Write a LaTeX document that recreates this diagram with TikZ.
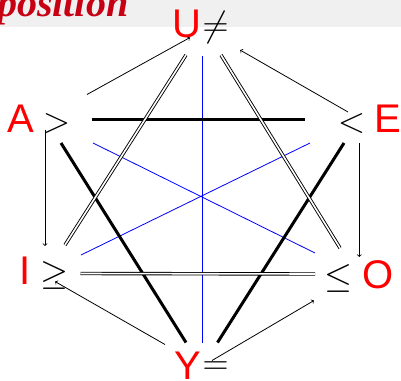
\RequirePackage{fix-cm}
\documentclass[tikz,border=0pt]{standalone}
\usepackage{fontspec}
\setmainfont{Liberation Sans}
\newfontfamily\titlefont{Liberation Serif}
\begin{document}
\begin{tikzpicture}[x=1pt,y=-1pt,
  lab/.style={inner sep=0pt,text=red,font=\fontsize{40}{48}\selectfont},
  sym/.style={inner sep=0pt,font=\fontsize{36}{44}\selectfont},
  thickline/.style={line width=3pt,black},
  dbl/.style={double,double distance=1.6pt,line width=0.9pt},
  thin/.style={line width=0.8pt,->},
  blueline/.style={line width=0.8pt,blue}]
\useasboundingbox (0,0) rectangle (401,380);
\fill[gray!12] (0,0) rectangle (401,26.5);
\node[anchor=base west,inner sep=0pt,text={rgb,255:red,200;green,0;blue,20},
  font=\titlefont\fontsize{40}{48}\selectfont\bfseries\itshape] (title) at (-3,16.5) {position};
% labels
\node[lab] (U) at (186.5,24) {U};
\node[sym] (Us) at (215.5,27) {$\neq$};
\node[lab] (A) at (21,119) {A};
\node[sym] (As) at (56.5,123) {$>$};
\node[lab] (E) at (388,119) {E};
\node[sym] (Es) at (351.5,123) {$<$};
\node[lab] (I) at (25,270.5) {I};
\node[sym] (Is) at (54.5,275) {$\geq$};
\node[lab] (O) at (378,275) {O};
\node[sym] (Os) at (338.5,278) {$\leq$};
\node[lab] (Y) at (188,366) {Y};
\node[sym] (Ys) at (215.5,368.5) {$=$};
% coordinates
\coordinate (ae1) at (92,119); \coordinate (ae2) at (305,119);
\coordinate (ay1) at (61,143); \coordinate (ay2) at (186,342.5);
\coordinate (ey1) at (344,143); \coordinate (ey2) at (217.5,342.5);
\coordinate (iu1) at (65,245); \coordinate (iu2) at (186,55);
\coordinate (uo1) at (221,55); \coordinate (uo2) at (340,248);
\coordinate (io1) at (80.5,273.5); \coordinate (io2) at (315,274);
\coordinate (bv1) at (202,56); \coordinate (bv2) at (202,342.5);
\coordinate (bd1) at (93,143); \coordinate (bd2) at (315,253);
\coordinate (bd3) at (310,143); \coordinate (bd4) at (81,255);
\coordinate (au1) at (87,94.5); \coordinate (au2) at (190,37.5);
\coordinate (eu1) at (348,112); \coordinate (eu2) at (240,50);
\coordinate (ai1) at (45,129.5); \coordinate (ai2) at (45,246);
\coordinate (eo1) at (359.3,143); \coordinate (eo2) at (359.3,257);
\coordinate (yi1) at (165,344.5); \coordinate (yi2) at (55,281.5);
\coordinate (yo1) at (212,360.5); \coordinate (yo2) at (314,300.5);
% blue
\draw[blueline] (bv1) -- (bv2);
\draw[blueline] (bd1) -- (bd2);
\draw[blueline] (bd3) -- (bd4);
% thick
\draw[thickline] (ae1) -- (ae2);
\draw[thickline] (ay1) -- (ay2);
\draw[thickline] (ey1) -- (ey2);
% double
\draw[dbl] (iu1) -- (iu2);
\draw[dbl] (uo1) -- (uo2);
\draw[dbl] (io1) -- (io2);
% arrows
\draw[thin] (au1) -- (au2);
\draw[thin] (eu1) -- (eu2);
\draw[thin] (ai1) -- (ai2);
\draw[thin] (eo1) -- (eo2);
\draw[thin] (yi1) -- (yi2);
\draw[thin] (yo1) -- (yo2);
\end{tikzpicture}
\end{document}
